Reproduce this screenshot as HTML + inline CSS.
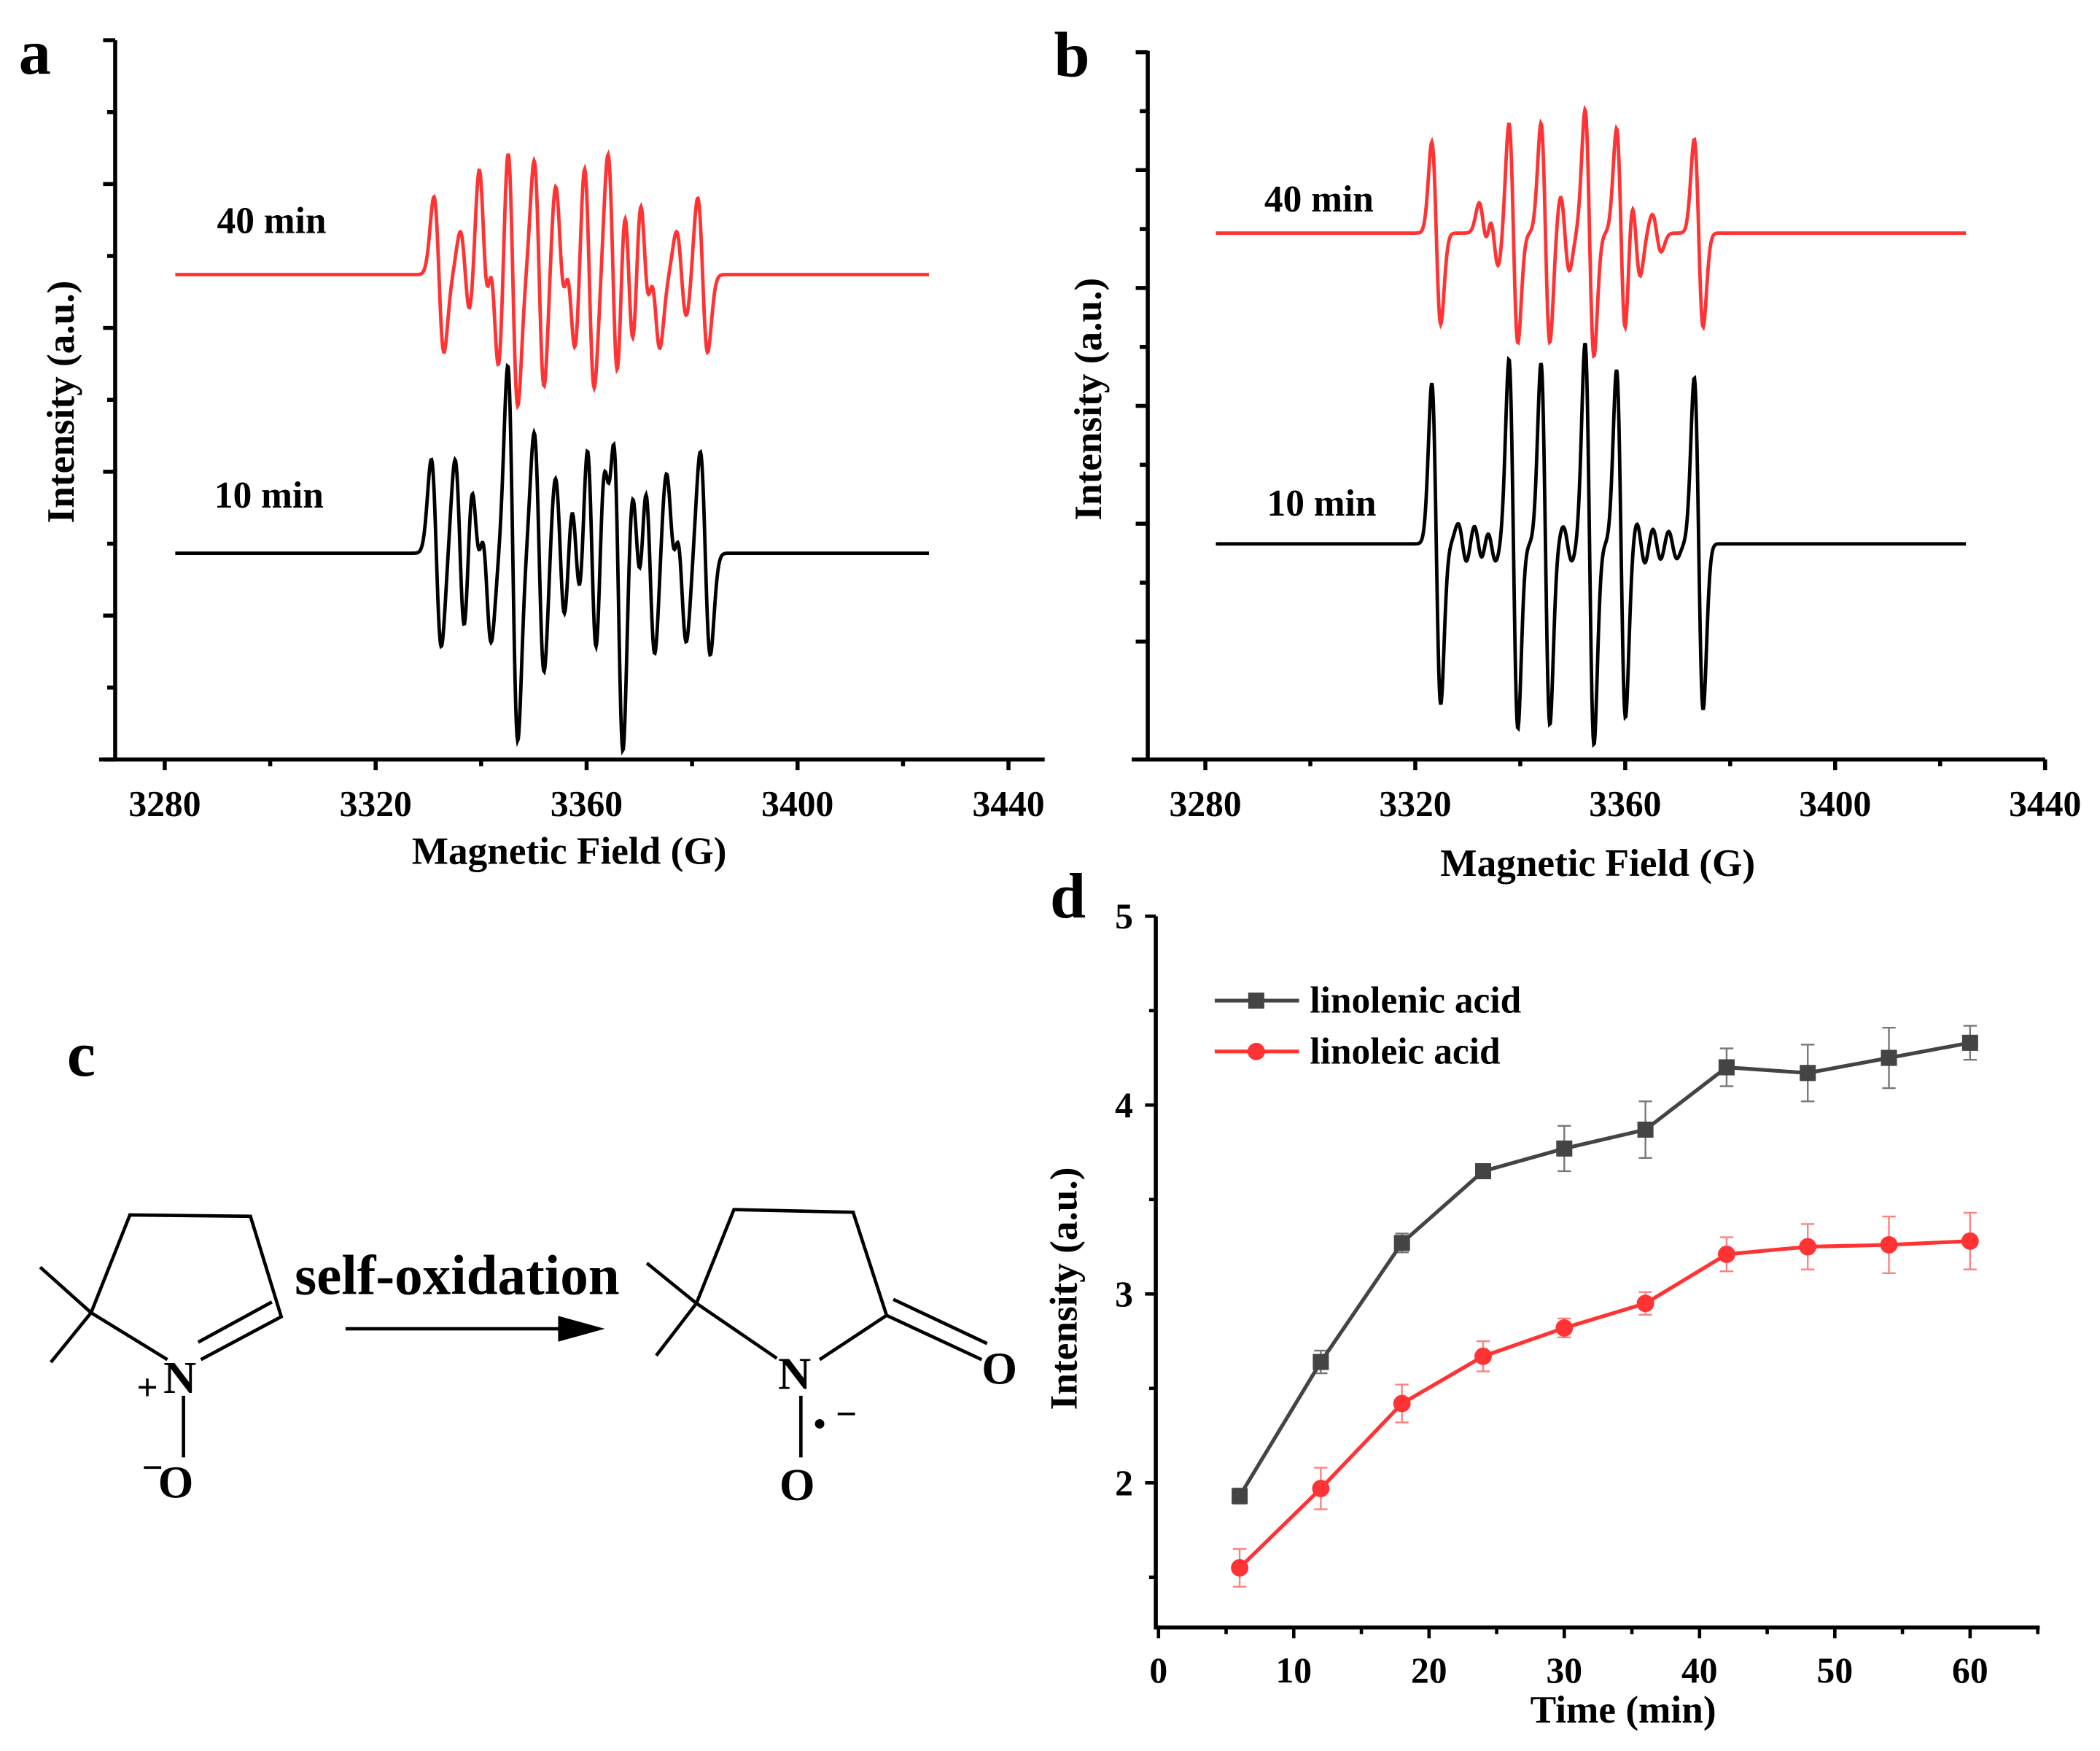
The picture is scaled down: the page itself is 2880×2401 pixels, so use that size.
<!DOCTYPE html>
<html><head><meta charset="utf-8">
<style>
html,body{margin:0;padding:0;background:#fff;}
svg{display:block;}
text{font-family:"Liberation Serif",serif;font-weight:bold;fill:#000;}
</style></head>
<body>
<svg id="fig" xmlns="http://www.w3.org/2000/svg" width="2880" height="2401" viewBox="0 0 1568 1307.2" preserveAspectRatio="none">
<rect width="1568" height="1307.2" fill="#fff"/>
<text x="14" y="55" font-size="48">a</text>
<text x="787" y="57" font-size="48">b</text>
<text x="50" y="803" font-size="48">c</text>
<text x="784" y="685" font-size="48">d</text>
<g id="pa"></g>
<g id="pb"></g>
<g id="pd"></g>
<g id="pc" stroke="#000" stroke-width="2.5" fill="none">
  <polyline points="68,980 97,907 187,908 210,983 150,1015"/>
  <line x1="68" y1="980" x2="125" y2="1015"/>
  <line x1="203" y1="972" x2="148" y2="1002"/>
  <line x1="68" y1="980" x2="30" y2="946"/>
  <line x1="68" y1="980" x2="38" y2="1017"/>
  <line x1="137" y1="1042" x2="137" y2="1088"/>
  <line x1="258" y1="992" x2="430" y2="992"/>
  <polygon points="447,992 418,984 418,1000" fill="#000"/>
  <polyline points="520,973 548,903 637,905 662,982 612,1015"/>
  <line x1="520" y1="973" x2="580" y2="1014"/>
  <line x1="520" y1="973" x2="483" y2="943"/>
  <line x1="520" y1="973" x2="490" y2="1012"/>
  <line x1="662" y1="982" x2="733" y2="1015"/>
  <line x1="667" y1="970" x2="737" y2="1003"/>
  <line x1="598" y1="1042" x2="598" y2="1088"/>
</g>
<g>
<text x="122" y="1040" font-size="34">N</text>
<text x="102" y="1045" font-size="28" font-weight="normal">+</text>
<text x="118" y="1118" font-size="34">O</text>
<text x="106" y="1105" font-size="28" font-weight="normal">−</text>
<text x="220" y="966" font-size="42">self-oxidation</text>
<text x="581" y="1037" font-size="34">N</text>
<text x="733" y="1033" font-size="34">O</text>
<text x="582" y="1120" font-size="34">O</text>
<circle cx="612" cy="1063" r="3.5" fill="#000"/>
<text x="624" y="1065" font-size="28" font-weight="normal">−</text>
</g>
</svg>
<script>
// ===== EPR data: line centers (G) and amplitudes (px) =====
const aRedCenters = [3332,3337,3340.5,3342.5,3346,3351,3355,3357,3360.5,3365,3368,3371,3373,3378,3382];
const aRedAmps    = [58,32,78,72,98,85,65,58,85,90,65,65,52,32,58];
const aBlackCenters = [3331.5,3336,3339,3341,3346,3351,3355,3358,3361,3364,3366,3369.5,3372,3376,3378,3382.5];
const aBlackAmps    = [70,70,58,64,140,90,58,45,90,70,150,52,76,58,64,76];
const bRedCenters = [3324,3333,3335,3338.7,3344.8,3348.5,3353.2,3359.2,3362,3366,3374];
const bRedAmps    = [68,22,25,82,82,28,92,78,32,14,70];
const bBlackCenters = [3324,3329,3332,3334.5,3338.7,3344.8,3349,3353.2,3359.2,3363,3366,3369,3374];
const bBlackAmps    = [120,15,15,13,138,135,13,150,130,16,13,11,124];
const fieldTicks = [3280,3320,3360,3400,3440];
// ===== Panel d data =====
const times = [6,12,18,24,30,36,42,48,54,60];
const linolenic = [1.93,2.64,3.27,3.65,3.77,3.87,4.20,4.17,4.25,4.33];
const linolenicErr = [0.04,0.06,0.05,0.03,0.12,0.15,0.10,0.15,0.16,0.09];
const linoleic = [1.55,1.97,2.42,2.67,2.82,2.95,3.21,3.25,3.26,3.28];
const linoleicErr = [0.10,0.11,0.10,0.08,0.05,0.06,0.09,0.12,0.15,0.15];
const timeTicks = [0,10,20,30,40,50,60];
const intensityTicks = [2,3,4,5];

const NS="http://www.w3.org/2000/svg";
function mk(tag,attrs,parent){const e=document.createElementNS(NS,tag);for(const k in attrs)e.setAttribute(k,attrs[k]);parent.appendChild(e);return e;}

function eprPanel(g, cfg){
  const xs = f => cfg.x0 + (f-3280)*cfg.pxPerG;
  let ax=mk('path',{d:`M${cfg.ax},${cfg.top} V${cfg.bot} M${cfg.ax-12},${cfg.bot} H${cfg.right}`,stroke:'#000','stroke-width':3,fill:'none'},g);
  
  
  cfg.yTicks.forEach((y,i)=>{
    const l=mk('line',{x1:cfg.ax-(i%2===0?9:6),x2:cfg.ax,y1:y,y2:y,stroke:'#000','stroke-width':3},g);
    
    
  });
  fieldTicks.forEach((f,i)=>{
    const x=xs(f);
    const l=mk('line',{x1:x,x2:x,y1:cfg.bot,y2:cfg.bot+8,stroke:'#000','stroke-width':3},g);
    
    
    if(i<fieldTicks.length-1){
      const m=mk('line',{x1:xs(f+20),x2:xs(f+20),y1:cfg.bot,y2:cfg.bot+5,stroke:'#000','stroke-width':3},g);
      
      
    }
    const t=mk('text',{x:x,y:cfg.bot+42,'font-size':27,'text-anchor':'middle'},g);
    t.textContent=f;
    
    
  });
  const xl=mk('text',{x:cfg.xLabelX,y:cfg.xLabelY,'font-size':29,'text-anchor':'middle'},g);
  xl.textContent='Magnetic Field (G)';
  
  
  const yl=mk('text',{x:0,y:0,'font-size':29,'text-anchor':'middle',transform:`translate(${cfg.yLabelX},${cfg.yLabelY}) rotate(-90)`},g);
  yl.textContent='Intensity (a.u.)';
  
  
  cfg.series.forEach(s=>{
    let d='';
    for(let f=3282;f<=3425;f+=0.12){
      let v=0;
      for(let i=0;i<s.c.length;i++){const u=(f-s.c[i])/s.w;v+=-s.a[i]*u*Math.exp(0.5-u*u/2);}
      d+=(d?'L':'M')+xs(f).toFixed(2)+','+(s.base-v).toFixed(2);
    }
    const p=mk('path',{d:d,stroke:s.color,'stroke-width':2.6,fill:'none'},g);
    
    
    const t=mk('text',{x:s.lx,y:s.ly,'font-size':28},g);
    t.textContent=s.label;
    
    
  });
}
const aTicks=[];for(let i=0;i<11;i++)aTicks.push(30+i*53.7);
eprPanel(document.getElementById('pa'),{x0:123,pxPerG:157.5/40,ax:86,top:30,bot:567,right:780,yTicks:aTicks,
  xLabelX:425,xLabelY:645,yLabelX:55,yLabelY:300,
  series:[
    {c:aRedCenters,a:aRedAmps,w:0.95,base:205,color:'#ff3333',name:'spectrum-40min',label:'40 min',lx:162,ly:174},
    {c:aBlackCenters,a:aBlackAmps,w:0.95,base:413,color:'#000',name:'spectrum-10min',label:'10 min',lx:160,ly:379}
  ]});
const bTicks=[];for(let i=0;i<11;i++)bTicks.push(39+i*44);
eprPanel(document.getElementById('pb'),{x0:900,pxPerG:156.75/40,ax:857,top:38,bot:567,right:1527,yTicks:bTicks,
  xLabelX:1193,xLabelY:654,yLabelX:822,yLabelY:298,
  series:[
    {c:bRedCenters,a:bRedAmps,w:0.85,base:174,color:'#ff3333',name:'spectrum-40min',label:'40 min',lx:944,ly:158},
    {c:bBlackCenters,a:bBlackAmps,w:0.85,base:406,color:'#000',name:'spectrum-10min',label:'10 min',lx:946,ly:385}
  ]});

// ===== Panel d =====
(function(){
  const g=document.getElementById('pd');
  const xs=t=>865+t*10.1, ys=v=>1107-(v-2)*141;
  const ax=mk('path',{d:'M863,684 V1215 H1523',stroke:'#000','stroke-width':3,fill:'none'},g);
  
  
  timeTicks.forEach(t=>{
    const l=mk('line',{x1:xs(t),x2:xs(t),y1:1215,y2:1223,stroke:'#000','stroke-width':2.5},g);
    
    
    const m=mk('line',{x1:xs(t+5),x2:xs(t+5),y1:1215,y2:1220,stroke:'#000','stroke-width':2.5},g);
    
    
    const tx=mk('text',{x:xs(t),y:1256,'font-size':27,'text-anchor':'middle'},g);
    tx.textContent=t;
    
    
  });
  intensityTicks.forEach(v=>{
    const l=mk('line',{x1:855,x2:863,y1:ys(v),y2:ys(v),stroke:'#000','stroke-width':2.5},g);
    
    
    const m=mk('line',{x1:858,x2:863,y1:ys(v-0.5),y2:ys(v-0.5),stroke:'#000','stroke-width':2.5},g);
    
    
    const tx=mk('text',{x:846,y:ys(v)+9,'font-size':27,'text-anchor':'end'},g);
    tx.textContent=v;
    
    
  });
  const xl=mk('text',{x:1212,y:1286,'font-size':29,'text-anchor':'middle'},g);
  xl.textContent='Time (min)';
  
  
  const yl=mk('text',{x:0,y:0,'font-size':29,'text-anchor':'middle',transform:'translate(804,962) rotate(-90)'},g);
  yl.textContent='Intensity (a.u.)';
  
  
  function series(vals,errs,color,errColor,name,square){
    vals.forEach((v,i)=>{
      const x=xs(times[i]);
      const e=mk('path',{d:`M${x},${ys(v+errs[i])} V${ys(v-errs[i])} M${x-5},${ys(v+errs[i])} h10 M${x-5},${ys(v-errs[i])} h10`,stroke:errColor,'stroke-width':1.3,fill:'none'},g);
      
      
    });
    const p=mk('polyline',{points:vals.map((v,i)=>xs(times[i])+','+ys(v)).join(' '),stroke:color,'stroke-width':2.8,fill:'none'},g);
    
    
    vals.forEach((v,i)=>{
      const x=xs(times[i]),y=ys(v);
      const m=square?mk('rect',{x:x-6,y:y-6,width:12,height:12,fill:color},g):mk('circle',{cx:x,cy:y,r:6.5,fill:color},g);
      
      
    });
  }
  series(linolenic,linolenicErr,'#444','#777','linolenic',true);
  series(linoleic,linoleicErr,'#ff3333','#ff8080','linoleic',false);
  const legend=[['linolenic acid','#444',747,true],['linoleic acid','#ff3333',785,false]];
  legend.forEach(([lab,col,y,sq])=>{
    const l=mk('line',{x1:907,x2:970,y1:y,y2:y,stroke:col,'stroke-width':2.8},g);
    
    
    const m=sq?mk('rect',{x:932,y:y-6,width:12,height:12,fill:col},g):mk('circle',{cx:938,cy:y,r:6.5,fill:col},g);
    
    
    const t=mk('text',{x:978,y:y+9,'font-size':28},g);
    t.textContent=lab;
    
    
  });
})();
</script>
</body></html>
